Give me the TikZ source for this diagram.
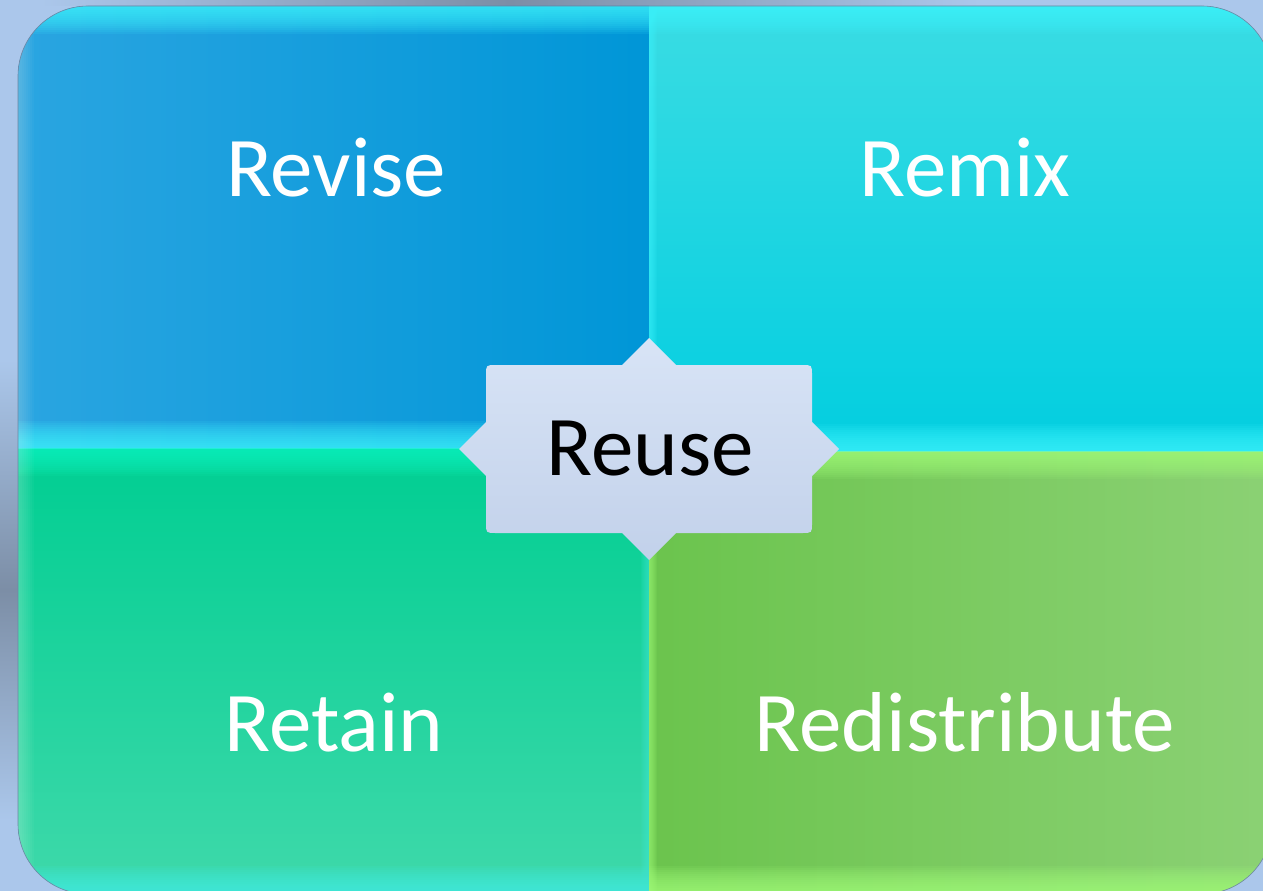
\documentclass[tikz,border=0pt]{standalone}
\usepackage{fontspec}
\setmainfont{Carlito}

\definecolor{bgBlue}{HTML}{ABC7EB}
\definecolor{bgShade}{HTML}{7C8EA6}
\definecolor{frameGray}{HTML}{6E86A4}
\definecolor{reviseL}{HTML}{2AA5E1}
\definecolor{reviseR}{HTML}{0096D7}
\definecolor{remixT}{HTML}{3ADCE3}
\definecolor{remixB}{HTML}{02CEE0}
\definecolor{retainT}{HTML}{00CE92}
\definecolor{retainB}{HTML}{3FD9AA}
\definecolor{redistL}{HTML}{6BC44D}
\definecolor{redistR}{HTML}{8BD174}
\definecolor{glowCyan}{HTML}{40F6FF}
\definecolor{glowMint}{HTML}{10F8C4}
\definecolor{glowGreen}{HTML}{A4FF7C}
\definecolor{reuseT}{HTML}{D8E4F6}
\definecolor{reuseB}{HTML}{C2D1EA}

\begin{document}
\begin{tikzpicture}[x=1pt,y=-1pt]
  \tikzstyle{every node} = [font=\fontsize{85}{90}\selectfont,
                            inner sep = 0,
                            anchor = base]
  \tikzstyle{quadtext} = [text=white]
  \tikzstyle{glow} = [opacity=.1]

\useasboundingbox (0,0) rectangle (1263,891);
\fill[bgBlue] (0,0) rectangle (1263,891);
\shade[top color=bgBlue, bottom color=bgBlue, middle color=bgShade] (0,360) rectangle (18,820);
\shade[left color=bgBlue, right color=bgBlue, middle color=bgShade] (40,0) rectangle (980,6);

\begin{scope}
  \clip[rounded corners=70] (18,6) rectangle (1272,894);
  \shade[left color=reviseL, right color=reviseR] (18,6) rectangle (649,448);
  \shade[top color=remixT, bottom color=remixB] (649,6) rectangle (1272,451);
  \shade[top color=retainT, bottom color=retainB] (18,448) rectangle (649,894);
  \shade[left color=redistL, right color=redistR] (649,451) rectangle (1272,894);
  % soft edges
  \foreach \k in {1,...,14} {
    \fill[glowCyan, glow] (18,6) rectangle (1272,{6+2*\k});
    \fill[glowCyan, glow] (18,{449-2*\k}) rectangle (649,449);
    \fill[glowCyan, glow] (649,{452-2*\k}) rectangle (1272,452);
    \fill[glowMint, glow] (18,448) rectangle (649,{448+2*\k});
    \fill[glowGreen, glow] (649,451) rectangle (1272,{451+2*\k});
    \fill[glowCyan!70!retainB, glow] (18,{894-2*\k}) rectangle (649,894);
    \fill[glowGreen, glow] (649,{894-2*\k}) rectangle (1272,894);
  }
  \foreach \k in {1,...,8} {
    \fill[white, opacity=.03] (18,6) rectangle ({18+2*\k},894);
    \fill[glowCyan, glow] (649,6) rectangle ({649+\k},451);
    \fill[glowGreen, glow] (649,451) rectangle ({649+\k},894);
    \fill[glowCyan!50!retainB, glow] ({649-\k},448) rectangle (649,894);
  }
\end{scope}
\draw[frameGray, line width=.6, rounded corners=70] (18,6) rectangle (1272,894);

\shade[top color=reuseT, bottom color=reuseB, shift={(649,449)}]
  (-153,-84) -- (-27,-84) -- (0,-111) -- (27,-84) -- (153,-84)
  .. controls (163,-84) .. (163,-74) -- (163,-27) -- (190,0) -- (163,27)
  -- (163,74) .. controls (163,84) .. (153,84) -- (27,84) -- (0,111)
  -- (-27,84) -- (-153,84) .. controls (-163,84) .. (-163,74)
  -- (-163,27) -- (-190,0) -- (-163,-27) -- (-163,-74)
  .. controls (-163,-84) .. (-153,-84) -- cycle;

\node[quadtext] (revise) at (336,196) {Revise};
\node[quadtext] (remix) at (965,196) {Remix};
\node[quadtext] (retain) at (334,751) {Retain};
\node[quadtext] (redistribute) at (965,751) {Redistribute};
\node (reuse) at (650,475) {Reuse};

\end{tikzpicture}
\end{document}
